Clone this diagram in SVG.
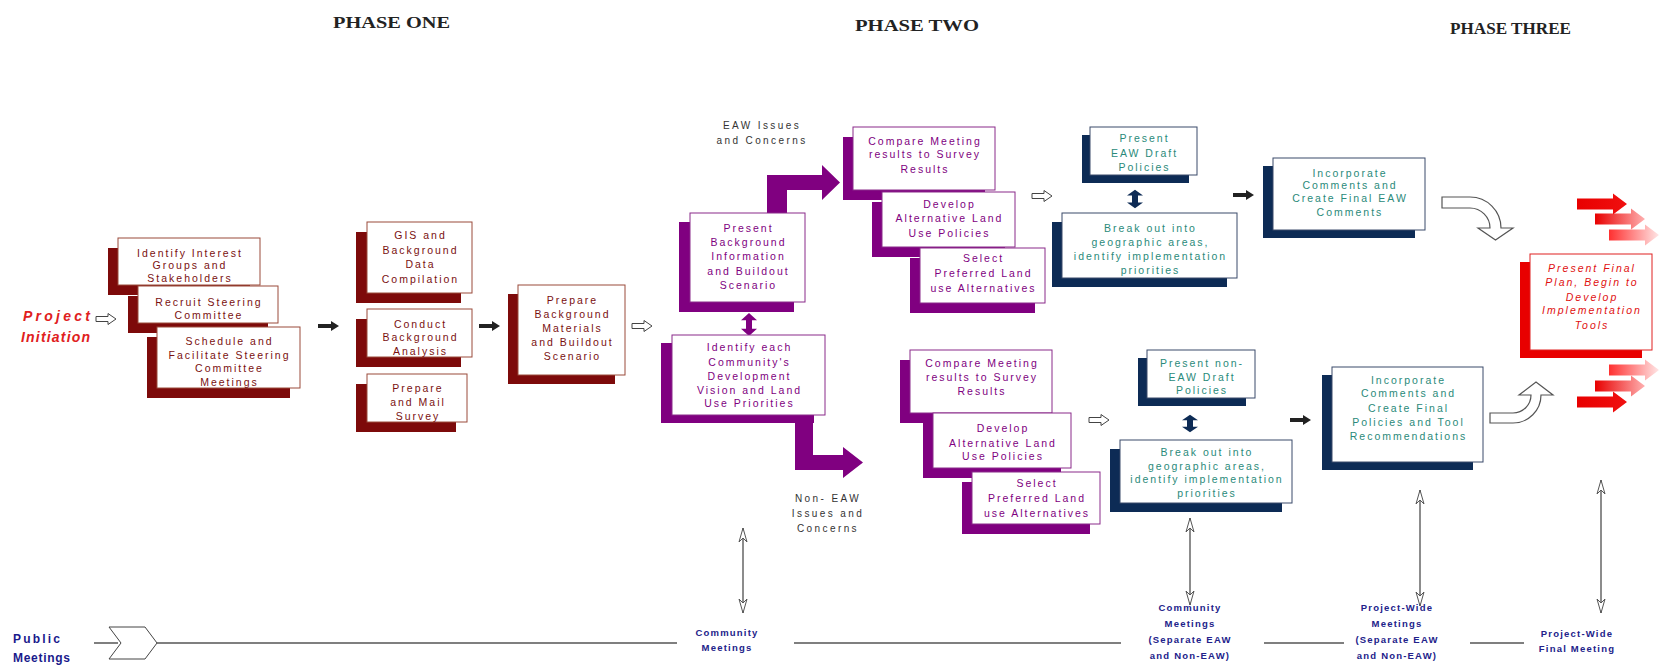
<svg xmlns="http://www.w3.org/2000/svg" width="1659" height="666" viewBox="0 0 1659 666">
<defs>
<style>
.rbox{fill:#fff;stroke:#9a4a3a;stroke-width:1}
.rsh{fill:#7d0a0a}
.pbox{fill:#fff;stroke:#8a2a8a;stroke-width:1}
.psh{fill:#800080}
.tbox{fill:#fff;stroke:#3a4a6a;stroke-width:1}
.tsh{fill:#0d2b55}
.fbox{fill:#fff;stroke:#e02020;stroke-width:1}
.fsh{fill:#e80000}
text{font-family:"Liberation Sans",Arial,sans-serif}
.bt{font-size:10.5px;letter-spacing:2px;text-anchor:middle}
.rt{fill:#7a1010}
.pt{fill:#800080}
.tt{fill:#2a8a7a}
.ft{fill:#e01010;font-style:italic}
.lab{font-size:10px;letter-spacing:2.4px;text-anchor:middle;fill:#333}
.mt{font-size:9.5px;font-weight:bold;letter-spacing:1.2px;text-anchor:middle;fill:#22228a}
.ph{font-family:"Liberation Serif","Times New Roman",serif;font-weight:bold;font-size:17px;fill:#222}
.hol{fill:#fff;stroke:#444;stroke-width:1}
.drk{fill:#222}
.vl{stroke:#666;stroke-width:1.5;fill:none}
.tl{stroke:#555;stroke-width:1.5;fill:none}
.curv{fill:#fff;stroke:#555;stroke-width:1.2}
</style>
<path id="ha" d="M0,-2.5 L12,-2.5 L12,-5.5 L20,0 L12,5.5 L12,2.5 L0,2.5 Z"/>
<path id="da" d="M0,-2 L13,-2 L13,-5 L21,0 L13,5 L13,2 L0,2 Z"/>
<path id="dbl" d="M0,-11 L8,-4 L3,-4 L3,4 L8,4 L0,11 L-8,4 L-3,4 L-3,-4 L-8,-4 Z"/>
<path id="ra" d="M0,-5.5 L36,-5.5 L36,-10.5 L50,0 L36,10.5 L36,5.5 L0,5.5 Z"/>
<marker id="hh" viewBox="0 0 16 10" refX="15" refY="5" markerWidth="16" markerHeight="10" markerUnits="userSpaceOnUse" orient="auto-start-reverse">
<path d="M1,1 L15,5 L1,9 L5,5 Z" fill="#fff" stroke="#555" stroke-width="1"/>
</marker>
<linearGradient id="gA" x1="0" y1="0" x2="1" y2="0"><stop offset="0" stop-color="#e80000"/><stop offset="1" stop-color="#f01010"/></linearGradient>
<linearGradient id="gB" x1="0" y1="0" x2="1" y2="0"><stop offset="0" stop-color="#e80000"/><stop offset="1" stop-color="#ffb0b0"/></linearGradient>
<linearGradient id="gC" x1="0" y1="0" x2="1" y2="0"><stop offset="0" stop-color="#ff3030"/><stop offset="1" stop-color="#ffe6e6"/></linearGradient>
</defs>
<rect width="1659" height="666" fill="#fff"/>

<g id="headings">
<text class="ph" x="333" y="28" textLength="117" lengthAdjust="spacingAndGlyphs">PHASE ONE</text>
<text class="ph" x="855" y="31" textLength="124" lengthAdjust="spacingAndGlyphs">PHASE TWO</text>
<text class="ph" x="1450" y="34" textLength="121" lengthAdjust="spacingAndGlyphs">PHASE THREE</text>
</g>

<g id="connectors">
<use href="#ha" x="96" y="319" class="hol"/>
<use href="#da" x="318" y="326" class="drk"/>
<use href="#da" x="479" y="326" class="drk"/>
<use href="#ha" x="632" y="326" class="hol"/>
<use href="#ha" x="1032" y="196" class="hol"/>
<use href="#da" x="1233" y="195" class="drk"/>
<use href="#ha" x="1089" y="420" class="hol"/>
<use href="#da" x="1290" y="420" class="drk"/>
<polygon fill="#800080" points="767,213 767,175 822,175 822,165 840,182.5 822,200 822,190 787,190 787,213"/>
<polygon fill="#800080" points="795,415 795,470 843,470 843,478 863,462.5 843,447 843,455 813,455 813,415"/>
<use href="#dbl" transform="translate(749,324.5) scale(1,1.05)" fill="#800080"/>
<use href="#dbl" transform="translate(1135,199) scale(1,0.85)" fill="#0d2b55"/>
<use href="#dbl" transform="translate(1190,423.5) scale(1,0.8)" fill="#0d2b55"/>
<path class="curv" d="M1442,197 L1470,197 A31,31 0 0 1 1501,228 L1513,228 L1495.5,240 L1478,228 L1490,228 A20,20 0 0 0 1470,208 L1442,208 Z"/>
<path class="curv" d="M1490,423 L1513,423 A28,28 0 0 0 1541,395 L1553,395 L1536,382 L1519,395 L1531,395 A18,18 0 0 1 1513,413 L1490,413 Z"/>
<use href="#ra" transform="translate(1609,235)" fill="url(#gC)"/>
<use href="#ra" transform="translate(1595,219)" fill="url(#gB)"/>
<use href="#ra" transform="translate(1577,204)" fill="url(#gA)"/>
<use href="#ra" transform="translate(1609,370)" fill="url(#gC)"/>
<use href="#ra" transform="translate(1595,386)" fill="url(#gB)"/>
<use href="#ra" transform="translate(1577,402)" fill="url(#gA)"/>
<line class="vl" x1="743" y1="528" x2="743" y2="613" marker-start="url(#hh)" marker-end="url(#hh)"/>
<line class="vl" x1="1190" y1="518" x2="1190" y2="605" marker-start="url(#hh)" marker-end="url(#hh)"/>
<line class="vl" x1="1420" y1="490" x2="1420" y2="606" marker-start="url(#hh)" marker-end="url(#hh)"/>
<line class="vl" x1="1601" y1="480" x2="1601" y2="613" marker-start="url(#hh)" marker-end="url(#hh)"/>
<line class="tl" x1="94" y1="643" x2="118" y2="643"/>
<polygon class="hol" points="109,627 145,627 157,643 145,659 109,659 121,643"/>
<line class="tl" x1="157" y1="643" x2="677" y2="643"/>
<line class="tl" x1="794" y1="643" x2="1121" y2="643"/>
<line class="tl" x1="1264" y1="643" x2="1344" y2="643"/>
<line class="tl" x1="1470" y1="643" x2="1524" y2="643"/>
</g>

<g id="project-initiation">
<text x="23" y="321" font-size="14" font-weight="bold" font-style="italic" fill="#e02020" textLength="67">Project</text>
<text x="21" y="342" font-size="14" font-weight="bold" font-style="italic" fill="#e02020" textLength="69">Initiation</text>
</g>

<g id="n-identify">
<rect class="rsh" x="108" y="248" width="142" height="47"/>
<rect class="rbox" x="118" y="238" width="142" height="47"/>
<text class="bt rt" x="190" y="256.5">Identify Interest</text>
<text class="bt rt" x="190" y="269">Groups and</text>
<text class="bt rt" x="190" y="281.5">Stakeholders</text>
</g>
<g id="n-recruit">
<rect class="rsh" x="128" y="296" width="140" height="37"/>
<rect class="rbox" x="138" y="286" width="140" height="37"/>
<text class="bt rt" x="209" y="305.5">Recruit Steering</text>
<text class="bt rt" x="209" y="318.5">Committee</text>
</g>
<g id="n-schedule">
<rect class="rsh" x="147" y="337" width="143" height="61"/>
<rect class="rbox" x="157" y="327" width="143" height="61"/>
<text class="bt rt" x="229.5" y="345">Schedule and</text>
<text class="bt rt" x="229.5" y="358.5">Facilitate Steering</text>
<text class="bt rt" x="229.5" y="372">Committee</text>
<text class="bt rt" x="229.5" y="385.5">Meetings</text>
</g>
<g id="n-gis">
<rect class="rsh" x="356" y="232" width="105" height="71"/>
<rect class="rbox" x="367" y="222" width="105" height="71"/>
<text class="bt rt" x="420.5" y="238.5">GIS and</text>
<text class="bt rt" x="420.5" y="254">Background</text>
<text class="bt rt" x="420.5" y="267.5">Data</text>
<text class="bt rt" x="420.5" y="283">Compilation</text>
</g>
<g id="n-conduct">
<rect class="rsh" x="356" y="319" width="105" height="48"/>
<rect class="rbox" x="367" y="309" width="105" height="48"/>
<text class="bt rt" x="420.5" y="327.5">Conduct</text>
<text class="bt rt" x="420.5" y="340.5">Background</text>
<text class="bt rt" x="420.5" y="354.5">Analysis</text>
</g>
<g id="n-survey">
<rect class="rsh" x="356" y="384" width="100" height="48"/>
<rect class="rbox" x="367" y="374" width="100" height="48"/>
<text class="bt rt" x="418" y="391.5">Prepare</text>
<text class="bt rt" x="418" y="405.5">and Mail</text>
<text class="bt rt" x="418" y="419.5">Survey</text>
</g>
<g id="n-prepare">
<rect class="rsh" x="508" y="294" width="107" height="90"/>
<rect class="rbox" x="518" y="285" width="107" height="90"/>
<text class="bt rt" x="572.5" y="303.5">Prepare</text>
<text class="bt rt" x="572.5" y="318">Background</text>
<text class="bt rt" x="572.5" y="331.5">Materials</text>
<text class="bt rt" x="572.5" y="346">and Buildout</text>
<text class="bt rt" x="572.5" y="360">Scenario</text>
</g>

<g id="n-present-bg">
<rect class="psh" x="679" y="222" width="115" height="90"/>
<rect class="pbox" x="690" y="213" width="115" height="89"/>
<text class="bt pt" x="748.5" y="231.5">Present</text>
<text class="bt pt" x="748.5" y="246">Background</text>
<text class="bt pt" x="748.5" y="260">Information</text>
<text class="bt pt" x="748.5" y="275">and Buildout</text>
<text class="bt pt" x="748.5" y="288.5">Scenario</text>
</g>
<g id="n-identify-each">
<rect class="psh" x="661" y="343" width="153" height="80"/>
<rect class="pbox" x="672" y="335" width="153" height="80"/>
<text class="bt pt" x="749.5" y="350.5">Identify each</text>
<text class="bt pt" x="749.5" y="366">Community's</text>
<text class="bt pt" x="749.5" y="380">Development</text>
<text class="bt pt" x="749.5" y="393.5">Vision and Land</text>
<text class="bt pt" x="749.5" y="407">Use Priorities</text>
</g>
<g id="lab-eaw">
<text class="lab" x="762" y="128.5">EAW Issues</text>
<text class="lab" x="762" y="143.5">and Concerns</text>
</g>
<g id="lab-noneaw">
<text class="lab" x="828" y="501.5">Non- EAW</text>
<text class="lab" x="828" y="516.5">Issues and</text>
<text class="lab" x="828" y="532">Concerns</text>
</g>

<g id="n-compare-1">
<rect class="psh" x="843" y="137" width="142" height="63"/>
<rect class="pbox" x="853" y="127" width="142" height="63"/>
<text class="bt pt" x="925" y="144.5">Compare Meeting</text>
<text class="bt pt" x="925" y="157.5">results to Survey</text>
<text class="bt pt" x="925" y="172.5">Results</text>
</g>
<g id="n-develop-1">
<rect class="psh" x="872" y="202" width="133" height="55"/>
<rect class="pbox" x="882" y="192" width="133" height="55"/>
<text class="bt pt" x="949.5" y="207.5">Develop</text>
<text class="bt pt" x="949.5" y="221.5">Alternative Land</text>
<text class="bt pt" x="949.5" y="236.5">Use Policies</text>
</g>
<g id="n-select-1">
<rect class="psh" x="910" y="258" width="125" height="55"/>
<rect class="pbox" x="920" y="248" width="125" height="55"/>
<text class="bt pt" x="983.5" y="261.5">Select</text>
<text class="bt pt" x="983.5" y="276.5">Preferred Land</text>
<text class="bt pt" x="983.5" y="291.5">use Alternatives</text>
</g>
<g id="n-compare-2">
<rect class="psh" x="900" y="360" width="142" height="63"/>
<rect class="pbox" x="910" y="350" width="142" height="63"/>
<text class="bt pt" x="982" y="366.5">Compare Meeting</text>
<text class="bt pt" x="982" y="380.5">results to Survey</text>
<text class="bt pt" x="982" y="394.5">Results</text>
</g>
<g id="n-develop-2">
<rect class="psh" x="923" y="423" width="138" height="55"/>
<rect class="pbox" x="933" y="413" width="138" height="55"/>
<text class="bt pt" x="1003" y="431.5">Develop</text>
<text class="bt pt" x="1003" y="446.5">Alternative Land</text>
<text class="bt pt" x="1003" y="459.5">Use Policies</text>
</g>
<g id="n-select-2">
<rect class="psh" x="962" y="482" width="128" height="52"/>
<rect class="pbox" x="972" y="472" width="128" height="52"/>
<text class="bt pt" x="1037" y="486.5">Select</text>
<text class="bt pt" x="1037" y="501.5">Preferred Land</text>
<text class="bt pt" x="1037" y="516.5">use Alternatives</text>
</g>

<g id="n-present-eaw">
<rect class="tsh" x="1082" y="135" width="107" height="48"/>
<rect class="tbox" x="1090" y="127" width="107" height="48"/>
<text class="bt tt" x="1144.5" y="141.5">Present</text>
<text class="bt tt" x="1144.5" y="156.5">EAW Draft</text>
<text class="bt tt" x="1144.5" y="171">Policies</text>
</g>
<g id="n-breakout-1">
<rect class="tsh" x="1052" y="222" width="175" height="65"/>
<rect class="tbox" x="1062" y="213" width="175" height="65"/>
<text class="bt tt" x="1150.5" y="231.5">Break out into</text>
<text class="bt tt" x="1150.5" y="246">geographic areas,</text>
<text class="bt tt" x="1150.5" y="260">identify implementation</text>
<text class="bt tt" x="1150.5" y="273.5">priorities</text>
</g>
<g id="n-incorporate-1">
<rect class="tsh" x="1263" y="166" width="152" height="72"/>
<rect class="tbox" x="1273" y="158" width="152" height="72"/>
<text class="bt tt" x="1350" y="176.5">Incorporate</text>
<text class="bt tt" x="1350" y="189">Comments and</text>
<text class="bt tt" x="1350" y="202">Create Final EAW</text>
<text class="bt tt" x="1350" y="215.5">Comments</text>
</g>
<g id="n-present-noneaw">
<rect class="tsh" x="1138" y="358" width="108" height="48"/>
<rect class="tbox" x="1147" y="350" width="108" height="48"/>
<text class="bt tt" x="1202" y="366.5">Present non-</text>
<text class="bt tt" x="1202" y="380.5">EAW Draft</text>
<text class="bt tt" x="1202" y="393.5">Policies</text>
</g>
<g id="n-breakout-2">
<rect class="tsh" x="1110" y="449" width="172" height="63"/>
<rect class="tbox" x="1120" y="440" width="172" height="63"/>
<text class="bt tt" x="1207" y="456">Break out into</text>
<text class="bt tt" x="1207" y="469.5">geographic areas,</text>
<text class="bt tt" x="1207" y="483">identify implementation</text>
<text class="bt tt" x="1207" y="496.5">priorities</text>
</g>
<g id="n-incorporate-2">
<rect class="tsh" x="1322" y="375" width="151" height="95"/>
<rect class="tbox" x="1332" y="367" width="151" height="95"/>
<text class="bt tt" x="1408.5" y="383.5">Incorporate</text>
<text class="bt tt" x="1408.5" y="397">Comments and</text>
<text class="bt tt" x="1408.5" y="411.5">Create Final</text>
<text class="bt tt" x="1408.5" y="425.5">Policies and Tool</text>
<text class="bt tt" x="1408.5" y="439.5">Recommendations</text>
</g>
<g id="n-final">
<rect class="fsh" x="1520" y="262" width="122" height="96"/>
<rect class="fbox" x="1530" y="254" width="122" height="96"/>
<text class="bt ft" x="1592" y="271.5">Present Final</text>
<text class="bt ft" x="1592" y="285.5">Plan, Begin to</text>
<text class="bt ft" x="1592" y="300.5">Develop</text>
<text class="bt ft" x="1592" y="313.5">Implementation</text>
<text class="bt ft" x="1592" y="328.5">Tools</text>
</g>

<g id="public-meetings">
<text x="13" y="643" font-size="12" font-weight="bold" fill="#1a1a8c" textLength="47">Public</text>
<text x="13" y="662" font-size="12" font-weight="bold" fill="#1a1a8c" textLength="57">Meetings</text>
</g>
<g id="m-community">
<text class="mt" x="727" y="636">Community</text>
<text class="mt" x="727" y="651">Meetings</text>
</g>
<g id="m-community-sep">
<text class="mt" x="1190" y="611">Community</text>
<text class="mt" x="1190" y="627">Meetings</text>
<text class="mt" x="1190" y="643">(Separate EAW</text>
<text class="mt" x="1190" y="659">and Non-EAW)</text>
</g>
<g id="m-projectwide">
<text class="mt" x="1397" y="611">Project-Wide</text>
<text class="mt" x="1397" y="627">Meetings</text>
<text class="mt" x="1397" y="643">(Separate EAW</text>
<text class="mt" x="1397" y="659">and Non-EAW)</text>
</g>
<g id="m-final">
<text class="mt" x="1577" y="637">Project-Wide</text>
<text class="mt" x="1577" y="652">Final Meeting</text>
</g>
</svg>
